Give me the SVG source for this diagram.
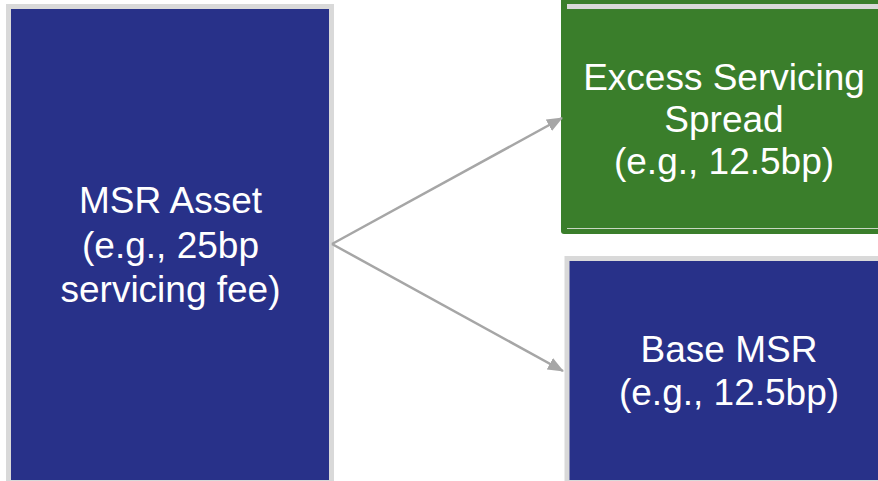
<svg xmlns="http://www.w3.org/2000/svg" width="878" height="481" viewBox="0 0 878 481">
<style>
.lbl{font-family:"Liberation Sans",Arial,sans-serif;font-size:37px;fill:#ffffff;text-anchor:middle}
.blue{fill:#283189;stroke:#d9d9d9;stroke-width:5}
.conn{stroke:#a6a6a6;stroke-width:2.5;fill:none}
</style>
<defs>
<marker id="ah" markerWidth="16" markerHeight="13" refX="15" refY="6.5" orient="auto" markerUnits="userSpaceOnUse">
<path d="M0,0 L16,6.5 L0,13 Z" fill="#a6a6a6"/>
</marker>
</defs>
<rect width="878" height="481" fill="#ffffff"/>
<g id="msr-asset">
<rect class="blue" x="8.5" y="6.5" width="323" height="476"/>
<text class="lbl" x="170.5" y="213">MSR Asset</text>
<text class="lbl" x="170.5" y="258">(e.g., 25bp</text>
<text class="lbl" x="170.5" y="302">servicing fee)</text>
</g>
<g id="excess-servicing-spread">
<rect x="561" y="-10" width="330" height="244" rx="3" fill="#3a7e2b"/>
<rect x="567" y="4" width="320" height="5" fill="#d9d9d9"/>
<line x1="567" y1="228.5" x2="878" y2="228.5" stroke="#c9d6c3" stroke-width="1"/>
<text class="lbl" x="724" y="90">Excess Servicing</text>
<text class="lbl" x="724" y="132">Spread</text>
<text class="lbl" x="724" y="174">(e.g., 12.5bp)</text>
</g>
<g id="base-msr">
<rect class="blue" x="567" y="258.5" width="330" height="224"/>
<text class="lbl" x="729" y="362">Base MSR</text>
<text class="lbl" x="729" y="405">(e.g., 12.5bp)</text>
</g>
<g id="connectors">
<line class="conn" x1="332" y1="244" x2="562" y2="118" marker-end="url(#ah)"/>
<line class="conn" x1="332" y1="244" x2="563" y2="371" marker-end="url(#ah)"/>
</g>
</svg>
